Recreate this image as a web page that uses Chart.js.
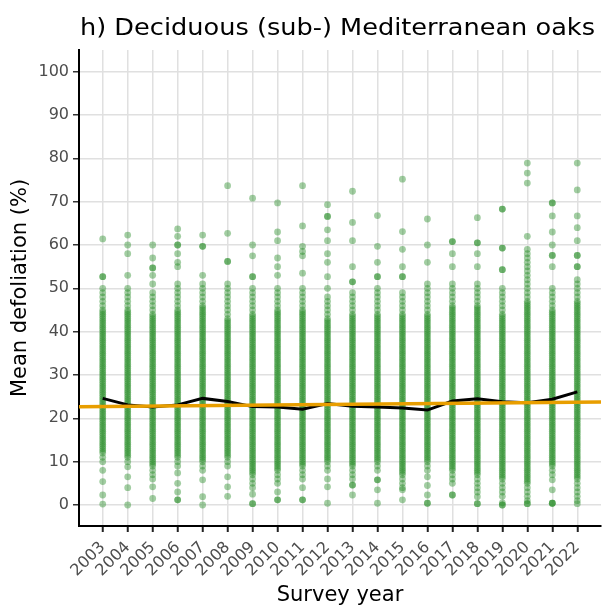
<!DOCTYPE html>
<html>
<head>
<meta charset="utf-8">
<script src="https://cdn.jsdelivr.net/npm/chart.js@4"></script>
<style>
  html, body { margin: 0; padding: 0; background: #fff; }
  #wrap { width: 605px; height: 608px; }
</style>
</head>
<body>
<div id="wrap"><canvas id="chart" width="605" height="608"></canvas></div>
<script>
const chartTitle = "h) Deciduous (sub-) Mediterranean oaks";
const years = [2003, 2004, 2005, 2006, 2007, 2008, 2009, 2010, 2011, 2012,
  2013, 2014, 2015, 2016, 2017, 2018, 2019, 2020, 2021, 2022];
const yTicks = [0, 10, 20, 30, 40, 50, 60, 70, 80, 90, 100];

// yearly mean (black line)
const meanDefoliation = [24.6, 23.1, 22.6, 23.1, 24.6, 23.9, 22.7, 22.6, 22.1, 23.4,
  22.8, 22.6, 22.4, 21.9, 24.0, 24.5, 23.8, 23.6, 24.4, 26.1];

// linear trend (orange line), ends beyond the first/last year
const trendX = [2002, 2023];
const trendY = [22.65, 23.75];

// plot-level mean defoliation, one list per survey year
const d2003 = [0.2, 2.3, 5.4, 8, 10, 11, 12, 13, 14, 15, 16, 17, 18, 19, 20, 21, 22, 23, 24, 25, 26, 27, 28, 29, 30, 31, 32, 33, 34, 35, 36, 37, 38, 39, 40, 41, 42, 43, 44, 45, 46, 47, 48, 49, 50, 52.7, 52.7, 61.4,
  12.5, 13.5, 14.5, 15.5, 16.5, 17.5, 18.5, 19.5, 20.5, 21.5, 22.5, 23.5, 24.5, 25.5, 26.5, 27.5, 28.5, 29.5, 30.5, 31.5, 32.5, 33.5, 34.5, 35.5, 36.5, 37.5, 38.5, 39.5, 40.5, 41.5, 42.5, 43.5, 44.5];
const d2004 = [0, 4, 6.5, 8.8, 10, 11, 12, 13, 14, 15, 16, 17, 18, 19, 20, 21, 22, 23, 24, 25, 26, 27, 28, 29, 30, 31, 32, 33, 34, 35, 36, 37, 38, 39, 40, 41, 42, 43, 44, 45, 46, 47, 48, 49, 50, 53, 58, 60, 62.3,
  11.5, 12.5, 13.5, 14.5, 15.5, 16.5, 17.5, 18.5, 19.5, 20.5, 21.5, 22.5, 23.5, 24.5, 25.5, 26.5, 27.5, 28.5, 29.5, 30.5, 31.5, 32.5, 33.5, 34.5, 35.5, 36.5, 37.5, 38.5, 39.5, 40.5, 41.5, 42.5, 43.5, 44.5];
const d2005 = [1.5, 4.2, 6, 7, 8, 9, 10, 11, 12, 13, 14, 15, 16, 17, 18, 19, 20, 21, 22, 23, 24, 25, 26, 27, 28, 29, 30, 31, 32, 33, 34, 35, 36, 37, 38, 39, 40, 41, 42, 43, 44, 45, 46, 47, 48, 49, 51, 53, 54.7, 54.7, 57, 60,
  9.5, 10.5, 11.5, 12.5, 13.5, 14.5, 15.5, 16.5, 17.5, 18.5, 19.5, 20.5, 21.5, 22.5, 23.5, 24.5, 25.5, 26.5, 27.5, 28.5, 29.5, 30.5, 31.5, 32.5, 33.5, 34.5, 35.5, 36.5, 37.5, 38.5, 39.5, 40.5, 41.5, 42.5, 43.5];
const d2006 = [1.2, 1.2, 3, 5, 7.4, 9, 10, 11, 12, 13, 14, 15, 16, 17, 18, 19, 20, 21, 22, 23, 24, 25, 26, 27, 28, 29, 30, 31, 32, 33, 34, 35, 36, 37, 38, 39, 40, 41, 42, 43, 44, 45, 46, 47, 48, 49, 50, 51, 55, 56, 58, 60, 60, 62, 63.7,
  11.5, 12.5, 13.5, 14.5, 15.5, 16.5, 17.5, 18.5, 19.5, 20.5, 21.5, 22.5, 23.5, 24.5, 25.5, 26.5, 27.5, 28.5, 29.5, 30.5, 31.5, 32.5, 33.5, 34.5, 35.5, 36.5, 37.5, 38.5, 39.5, 40.5, 41.5, 42.5, 43.5, 44.5];
const d2007 = [0, 1.9, 5.8, 8, 9, 10, 11, 12, 13, 14, 15, 16, 17, 18, 19, 20, 21, 22, 23, 24, 25, 26, 27, 28, 29, 30, 31, 32, 33, 34, 35, 36, 37, 38, 39, 40, 41, 42, 43, 44, 45, 46, 47, 48, 49, 50, 51, 53, 59.7, 59.7, 62.3,
  10.5, 11.5, 12.5, 13.5, 14.5, 15.5, 16.5, 17.5, 18.5, 19.5, 20.5, 21.5, 22.5, 23.5, 24.5, 25.5, 26.5, 27.5, 28.5, 29.5, 30.5, 31.5, 32.5, 33.5, 34.5, 35.5, 36.5, 37.5, 38.5, 39.5, 40.5, 41.5, 42.5, 43.5, 44.5, 45.5];
const d2008 = [2, 4.2, 6.5, 9, 10, 11, 12, 13, 14, 15, 16, 17, 18, 19, 20, 21, 22, 23, 24, 25, 26, 27, 28, 29, 30, 31, 32, 33, 34, 35, 36, 37, 38, 39, 40, 41, 42, 43, 44, 45, 46, 47, 48, 49, 50, 51, 56.2, 56.2, 62.7, 73.7,
  11.5, 12.5, 13.5, 14.5, 15.5, 16.5, 17.5, 18.5, 19.5, 20.5, 21.5, 22.5, 23.5, 24.5, 25.5, 26.5, 27.5, 28.5, 29.5, 30.5, 31.5, 32.5, 33.5, 34.5, 35.5, 36.5, 37.5, 38.5, 39.5, 40.5, 41.5, 42.5];
const d2009 = [0.3, 0.3, 2.5, 4, 5, 6, 7, 8, 9, 10, 11, 12, 13, 14, 15, 16, 17, 18, 19, 20, 21, 22, 23, 24, 25, 26, 27, 28, 29, 30, 31, 32, 33, 34, 35, 36, 37, 38, 39, 40, 41, 42, 43, 44, 45, 46, 47, 48, 49, 50, 52.7, 52.7, 57.5, 60, 70.8,
  7.5, 8.5, 9.5, 10.5, 11.5, 12.5, 13.5, 14.5, 15.5, 16.5, 17.5, 18.5, 19.5, 20.5, 21.5, 22.5, 23.5, 24.5, 25.5, 26.5, 27.5, 28.5, 29.5, 30.5, 31.5, 32.5, 33.5, 34.5, 35.5, 36.5, 37.5, 38.5, 39.5, 40.5, 41.5, 42.5, 43.5];
const d2010 = [1.2, 1.2, 3, 5, 6, 7, 8, 9, 10, 11, 12, 13, 14, 15, 16, 17, 18, 19, 20, 21, 22, 23, 24, 25, 26, 27, 28, 29, 30, 31, 32, 33, 34, 35, 36, 37, 38, 39, 40, 41, 42, 43, 44, 45, 46, 47, 48, 49, 50, 53, 55, 57, 61, 63, 69.7,
  8.5, 9.5, 10.5, 11.5, 12.5, 13.5, 14.5, 15.5, 16.5, 17.5, 18.5, 19.5, 20.5, 21.5, 22.5, 23.5, 24.5, 25.5, 26.5, 27.5, 28.5, 29.5, 30.5, 31.5, 32.5, 33.5, 34.5, 35.5, 36.5, 37.5, 38.5, 39.5, 40.5, 41.5, 42.5, 43.5, 44.5];
const d2011 = [1.2, 1.2, 4, 6, 7, 8, 9, 10, 11, 12, 13, 14, 15, 16, 17, 18, 19, 20, 21, 22, 23, 24, 25, 26, 27, 28, 29, 30, 31, 32, 33, 34, 35, 36, 37, 38, 39, 40, 41, 42, 43, 44, 45, 46, 47, 48, 49, 50, 53.5, 57.5, 58.5, 59.7, 64.4, 73.7,
  9.5, 10.5, 11.5, 12.5, 13.5, 14.5, 15.5, 16.5, 17.5, 18.5, 19.5, 20.5, 21.5, 22.5, 23.5, 24.5, 25.5, 26.5, 27.5, 28.5, 29.5, 30.5, 31.5, 32.5, 33.5, 34.5, 35.5, 36.5, 37.5, 38.5, 39.5, 40.5, 41.5, 42.5, 43.5, 44.5];
const d2012 = [0.4, 4.2, 6, 8, 9, 10, 11, 12, 13, 14, 15, 16, 17, 18, 19, 20, 21, 22, 23, 24, 25, 26, 27, 28, 29, 30, 31, 32, 33, 34, 35, 36, 37, 38, 39, 40, 41, 42, 43, 44, 45, 46, 47, 48, 50, 52.7, 56, 58, 61, 63.5, 66.6, 66.6, 69.3,
  10.5, 11.5, 12.5, 13.5, 14.5, 15.5, 16.5, 17.5, 18.5, 19.5, 20.5, 21.5, 22.5, 23.5, 24.5, 25.5, 26.5, 27.5, 28.5, 29.5, 30.5, 31.5, 32.5, 33.5, 34.5, 35.5, 36.5, 37.5, 38.5, 39.5, 40.5, 41.5, 42.5];
const d2013 = [2.3, 4.6, 4.6, 6, 7, 8, 9, 10, 11, 12, 13, 14, 15, 16, 17, 18, 19, 20, 21, 22, 23, 24, 25, 26, 27, 28, 29, 30, 31, 32, 33, 34, 35, 36, 37, 38, 39, 40, 41, 42, 43, 44, 45, 46, 47, 48, 49, 51.5, 51.5, 55, 61, 65.2, 72.4,
  9.5, 10.5, 11.5, 12.5, 13.5, 14.5, 15.5, 16.5, 17.5, 18.5, 19.5, 20.5, 21.5, 22.5, 23.5, 24.5, 25.5, 26.5, 27.5, 28.5, 29.5, 30.5, 31.5, 32.5, 33.5, 34.5, 35.5, 36.5, 37.5, 38.5, 39.5, 40.5, 41.5, 42.5, 43.5];
const d2014 = [0.4, 3.5, 5.8, 5.8, 8, 9, 10, 11, 12, 13, 14, 15, 16, 17, 18, 19, 20, 21, 22, 23, 24, 25, 26, 27, 28, 29, 30, 31, 32, 33, 34, 35, 36, 37, 38, 39, 40, 41, 42, 43, 44, 45, 46, 47, 48, 49, 50, 52.7, 52.7, 56, 59.7, 66.8,
  10.5, 11.5, 12.5, 13.5, 14.5, 15.5, 16.5, 17.5, 18.5, 19.5, 20.5, 21.5, 22.5, 23.5, 24.5, 25.5, 26.5, 27.5, 28.5, 29.5, 30.5, 31.5, 32.5, 33.5, 34.5, 35.5, 36.5, 37.5, 38.5, 39.5, 40.5, 41.5, 42.5, 43.5];
const d2015 = [1.2, 3.5, 4, 5, 6, 7, 8, 9, 10, 11, 12, 13, 14, 15, 16, 17, 18, 19, 20, 21, 22, 23, 24, 25, 26, 27, 28, 29, 30, 31, 32, 33, 34, 35, 36, 37, 38, 39, 40, 41, 42, 43, 44, 45, 46, 47, 48, 49, 52.7, 52.7, 55, 59, 63.1, 75.2,
  7.5, 8.5, 9.5, 10.5, 11.5, 12.5, 13.5, 14.5, 15.5, 16.5, 17.5, 18.5, 19.5, 20.5, 21.5, 22.5, 23.5, 24.5, 25.5, 26.5, 27.5, 28.5, 29.5, 30.5, 31.5, 32.5, 33.5, 34.5, 35.5, 36.5, 37.5, 38.5, 39.5, 40.5, 41.5, 42.5, 43.5];
const d2016 = [0.4, 0.4, 2.3, 4.5, 6.5, 8, 9, 10, 11, 12, 13, 14, 15, 16, 17, 18, 19, 20, 21, 22, 23, 24, 25, 26, 27, 28, 29, 30, 31, 32, 33, 34, 35, 36, 37, 38, 39, 40, 41, 42, 43, 44, 45, 46, 47, 48, 49, 50, 51, 56, 60, 66,
  10.5, 11.5, 12.5, 13.5, 14.5, 15.5, 16.5, 17.5, 18.5, 19.5, 20.5, 21.5, 22.5, 23.5, 24.5, 25.5, 26.5, 27.5, 28.5, 29.5, 30.5, 31.5, 32.5, 33.5, 34.5, 35.5, 36.5, 37.5, 38.5, 39.5, 40.5, 41.5, 42.5, 43.5];
const d2017 = [2.3, 2.3, 5, 6, 7, 8, 9, 10, 11, 12, 13, 14, 15, 16, 17, 18, 19, 20, 21, 22, 23, 24, 25, 26, 27, 28, 29, 30, 31, 32, 33, 34, 35, 36, 37, 38, 39, 40, 41, 42, 43, 44, 45, 46, 47, 48, 49, 50, 51, 55, 58, 60.8, 60.8,
  8.5, 9.5, 10.5, 11.5, 12.5, 13.5, 14.5, 15.5, 16.5, 17.5, 18.5, 19.5, 20.5, 21.5, 22.5, 23.5, 24.5, 25.5, 26.5, 27.5, 28.5, 29.5, 30.5, 31.5, 32.5, 33.5, 34.5, 35.5, 36.5, 37.5, 38.5, 39.5, 40.5, 41.5, 42.5, 43.5, 44.5, 45.5];
const d2018 = [0.3, 0.3, 1.9, 3, 4, 5, 6, 7, 8, 9, 10, 11, 12, 13, 14, 15, 16, 17, 18, 19, 20, 21, 22, 23, 24, 25, 26, 27, 28, 29, 30, 31, 32, 33, 34, 35, 36, 37, 38, 39, 40, 41, 42, 43, 44, 45, 46, 47, 48, 49, 50, 51, 55, 58, 60.5, 60.5, 66.3,
  7.5, 8.5, 9.5, 10.5, 11.5, 12.5, 13.5, 14.5, 15.5, 16.5, 17.5, 18.5, 19.5, 20.5, 21.5, 22.5, 23.5, 24.5, 25.5, 26.5, 27.5, 28.5, 29.5, 30.5, 31.5, 32.5, 33.5, 34.5, 35.5, 36.5, 37.5, 38.5, 39.5, 40.5, 41.5, 42.5, 43.5, 44.5, 45.5];
const d2019 = [0, 0, 0.5, 2, 3, 4, 5, 6, 7, 8, 9, 10, 11, 12, 13, 14, 15, 16, 17, 18, 19, 20, 21, 22, 23, 24, 25, 26, 27, 28, 29, 30, 31, 32, 33, 34, 35, 36, 37, 38, 39, 40, 41, 42, 43, 44, 45, 46, 47, 48, 49, 50, 54.3, 54.3, 59.3, 59.3, 68.3, 68.3,
  6.5, 7.5, 8.5, 9.5, 10.5, 11.5, 12.5, 13.5, 14.5, 15.5, 16.5, 17.5, 18.5, 19.5, 20.5, 21.5, 22.5, 23.5, 24.5, 25.5, 26.5, 27.5, 28.5, 29.5, 30.5, 31.5, 32.5, 33.5, 34.5, 35.5, 36.5, 37.5, 38.5, 39.5, 40.5, 41.5, 42.5, 43.5];
const d2020 = [0.3, 0.3, 1, 2, 3, 4, 5, 6, 7, 8, 9, 10, 11, 12, 13, 14, 15, 16, 17, 18, 19, 20, 21, 22, 23, 24, 25, 26, 27, 28, 29, 30, 31, 32, 33, 34, 35, 36, 37, 38, 39, 40, 41, 42, 43, 44, 45, 46, 47, 48, 49, 50, 51, 52, 53, 54, 55, 56, 57, 58, 59, 62, 74.3, 76.6, 78.9,
  5.5, 6.5, 7.5, 8.5, 9.5, 10.5, 11.5, 12.5, 13.5, 14.5, 15.5, 16.5, 17.5, 18.5, 19.5, 20.5, 21.5, 22.5, 23.5, 24.5, 25.5, 26.5, 27.5, 28.5, 29.5, 30.5, 31.5, 32.5, 33.5, 34.5, 35.5, 36.5, 37.5, 38.5, 39.5, 40.5, 41.5, 42.5, 43.5, 44.5, 45.5, 46.5];
const d2021 = [0.4, 0.4, 0.4, 3.5, 5.8, 7, 8, 9, 10, 11, 12, 13, 14, 15, 16, 17, 18, 19, 20, 21, 22, 23, 24, 25, 26, 27, 28, 29, 30, 31, 32, 33, 34, 35, 36, 37, 38, 39, 40, 41, 42, 43, 44, 45, 46, 47, 48, 49, 50, 55, 57.6, 57.6, 60, 63, 66.7, 69.7, 69.7,
  9.5, 10.5, 11.5, 12.5, 13.5, 14.5, 15.5, 16.5, 17.5, 18.5, 19.5, 20.5, 21.5, 22.5, 23.5, 24.5, 25.5, 26.5, 27.5, 28.5, 29.5, 30.5, 31.5, 32.5, 33.5, 34.5, 35.5, 36.5, 37.5, 38.5, 39.5, 40.5, 41.5, 42.5, 43.5, 44.5];
const d2022 = [0.3, 1, 2, 3, 4, 5, 6, 7, 8, 9, 10, 11, 12, 13, 14, 15, 16, 17, 18, 19, 20, 21, 22, 23, 24, 25, 26, 27, 28, 29, 30, 31, 32, 33, 34, 35, 36, 37, 38, 39, 40, 41, 42, 43, 44, 45, 46, 47, 48, 49, 50, 51, 52, 55, 55, 57.6, 57.6, 61, 64, 66.7, 72.7, 78.9,
  6.5, 7.5, 8.5, 9.5, 10.5, 11.5, 12.5, 13.5, 14.5, 15.5, 16.5, 17.5, 18.5, 19.5, 20.5, 21.5, 22.5, 23.5, 24.5, 25.5, 26.5, 27.5, 28.5, 29.5, 30.5, 31.5, 32.5, 33.5, 34.5, 35.5, 36.5, 37.5, 38.5, 39.5, 40.5, 41.5, 42.5, 43.5, 44.5, 45.5, 46.5];

const plotValues = [d2003, d2004, d2005, d2006, d2007, d2008, d2009, d2010, d2011, d2012,
  d2013, d2014, d2015, d2016, d2017, d2018, d2019, d2020, d2021, d2022];

const scatterPoints = [];
years.forEach((yr, i) => {
  plotValues[i].forEach(v => scatterPoints.push({ x: yr, y: v }));
});

const FONT = '"DejaVu Sans", sans-serif';
const GRID = "#e0e0e0";

// title is left-aligned with the plot panel, like ggplot
const panelTitle = {
  id: "panelTitle",
  afterDraw(chart) {
    const { ctx, chartArea } = chart;
    ctx.save();
    ctx.font = "23px " + FONT;
    ctx.fillStyle = "#000";
    ctx.textBaseline = "middle";
    const w = ctx.measureText(chartTitle).width;
    ctx.translate(chartArea.left + 1, 29);
    ctx.scale(515 / w, 1);
    ctx.fillText(chartTitle, 0, 0);
    ctx.restore();
  }
};

new Chart(document.getElementById("chart"), {
  type: "scatter",
  data: {
    datasets: [
      {
        type: "line",
        data: trendX.map((x, i) => ({ x: x, y: trendY[i] })),
        borderColor: "#E89E00",
        borderWidth: 3.5,
        pointRadius: 0,
        fill: false,
      },
      {
        type: "line",
        data: years.map((x, i) => ({ x: x, y: meanDefoliation[i] })),
        borderColor: "#000",
        borderWidth: 3,
        pointRadius: 0,
        tension: 0,
        fill: false,
      },
      {
        data: scatterPoints,
        pointRadius: 3.4,
        pointBorderWidth: 0,
        backgroundColor: "rgba(34, 139, 34, 0.42)",
        borderColor: "rgba(0, 0, 0, 0)",
      },
    ],
  },
  options: {
    responsive: false,
    animation: false,
    events: [],
    layout: { padding: { top: 50, right: 0, left: 0, bottom: 0 } },
    plugins: {
      legend: { display: false },
      tooltip: { enabled: false },
    },
    scales: {
      x: {
        type: "linear",
        min: 2002.05,
        max: 2022.95,
        afterBuildTicks: (scale) => {
          scale.ticks = years.map(v => ({ value: v }));
        },
        afterFit: (scale) => { scale.height = 82; },
        grid: { color: GRID, lineWidth: 1.5, tickColor: "#222", tickLength: 6, tickWidth: 2 },
        border: { display: true, color: "#000", width: 2 },
        ticks: {
          minRotation: 45,
          maxRotation: 45,
          autoSkip: false,
          padding: 6,
          color: "#4d4d4d",
          font: { family: FONT, size: 16 },
          callback: (v) => String(v),
        },
        title: {
          display: true,
          text: "Survey year",
          color: "#000",
          font: { family: FONT, size: 21 },
          padding: { top: 0, bottom: 0 },
        },
      },
      y: {
        min: -4.85,
        max: 105,
        afterBuildTicks: (scale) => {
          scale.ticks = yTicks.map(v => ({ value: v }));
        },
        afterFit: (scale) => { scale.width = 79; },
        grid: { color: GRID, lineWidth: 1.5, tickColor: "#333", tickLength: 6, tickWidth: 1.5 },
        border: { display: true, color: "#000", width: 2 },
        ticks: {
          padding: 4,
          color: "#4d4d4d",
          font: { family: FONT, size: 16 },
        },
        title: {
          display: true,
          text: "Mean defoliation (%)",
          color: "#000",
          font: { family: FONT, size: 21 },
          padding: { top: 8, bottom: 0 },
        },
      },
    },
  },
  plugins: [panelTitle],
});
</script>
</body>
</html>
